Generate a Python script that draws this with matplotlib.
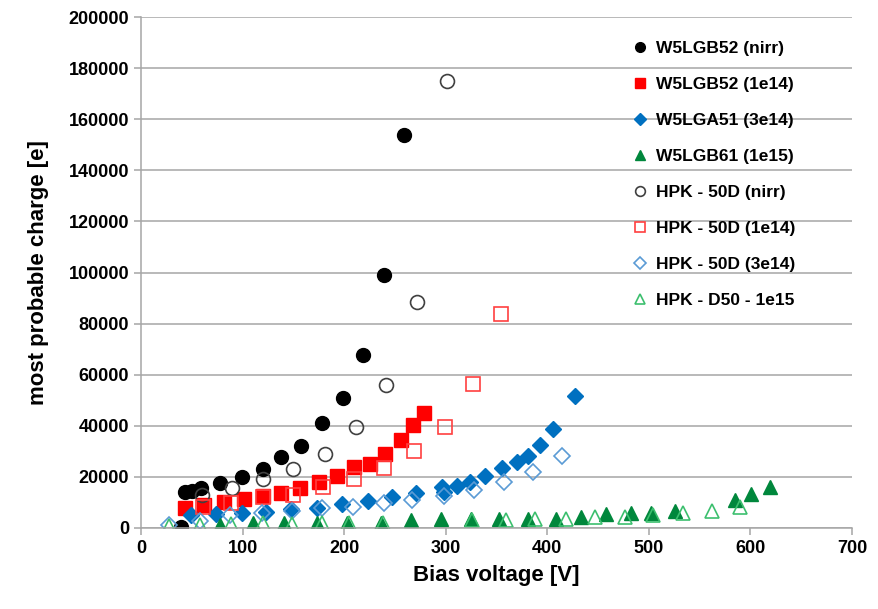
import matplotlib
matplotlib.use("Agg")
import matplotlib.pyplot as plt

plt.rcParams["font.family"] = ["Liberation Sans", "DejaVu Sans"]
plt.rcParams["font.weight"] = "bold"

# W5LGB52 (nirr)
w5_nirr_v = [39, 43, 50, 59, 78, 99, 120, 138, 158, 178, 199, 219, 239, 259]
w5_nirr_q = [200, 14100, 14500, 15700, 17600, 20000, 23100, 27800, 32100, 41100,
             50900, 67700, 99000, 154000]

# W5LGB52 (1e14)
w5_1e14_v = [43, 62, 82, 101, 120, 138, 157, 175, 193, 210, 225, 240, 256, 268, 279]
w5_1e14_q = [7800, 9000, 10200, 11400, 12500, 13700, 15600, 18000, 20400, 23900,
             25000, 29000, 34600, 40300, 45000]

# W5LGA51 (3e14)
w5_3e14_v = [49, 74, 99, 123, 148, 173, 198, 223, 247, 271, 296, 298, 311, 324,
             339, 355, 370, 381, 393, 406, 427]
w5_3e14_q = [5100, 5500, 5900, 6300, 7400, 7800, 9400, 10600, 12100, 13700, 16000,
             14200, 16400, 18000, 20300, 23500, 25800, 28200, 32500, 38800, 51600]

# W5LGB61 (1e15)
w5_1e15_v = [78, 110, 141, 173, 203, 236, 266, 295, 325, 352, 381, 409, 433, 458,
             482, 502, 526, 585, 601, 619]
w5_1e15_q = [1200, 1800, 1800, 1800, 1800, 2000, 3100, 3500, 3500, 3500, 3500, 3500,
             4300, 5500, 5900, 5900, 6600, 11000, 13300, 16000]

# HPK - 50D (nirr)
hpk_nirr_v = [60, 90, 120, 150, 181, 212, 241, 272, 301]
hpk_nirr_q = [12900, 15600, 19200, 23100, 29000, 39500, 56000, 88500, 175000]

# HPK - 50D (1e14)
hpk_1e14_v = [61, 89, 120, 150, 179, 210, 239, 269, 299, 327, 354]
hpk_1e14_q = [8200, 9800, 12100, 12900, 16000, 19200, 23500, 30200, 39600, 56400, 83700]

# HPK - 50D (3e14)
hpk_3e14_v = [28, 58, 88, 119, 149, 178, 209, 239, 267, 298, 328, 357, 386, 414]
hpk_3e14_q = [1200, 2700, 5200, 6000, 6800, 7800, 8300, 9600, 11000, 12500, 14800,
              18000, 22000, 28200]

# HPK - D50 - 1e15
hpk_1e15_v = [28, 58, 89, 120, 149, 178, 205, 238, 326, 359, 388, 418, 447, 477,
              504, 534, 562, 590]
hpk_1e15_q = [800, 1200, 1500, 1800, 1500, 1800, 1800, 1800, 3100, 3100, 3500, 3500,
              4300, 4300, 5100, 5900, 6600, 8200]

fig = plt.figure(figsize=(8.79, 6.09), dpi=100)
ax = fig.add_axes([141 / 879, 1 - 528 / 609, 711 / 879, 511 / 609])

# filled series
ax.plot(w5_nirr_v, w5_nirr_q, ls="none", marker="o", ms=10, mfc="black", mec="black",
        label="W5LGB52 (nirr)")
ax.plot(w5_1e14_v, w5_1e14_q, ls="none", marker="s", ms=9.5, mfc="#ff0000", mec="#ff0000",
        label="W5LGB52 (1e14)")
ax.plot(w5_3e14_v, w5_3e14_q, ls="none", marker="D", ms=8.5, mfc="#0070c0", mec="#0070c0",
        label="W5LGA51 (3e14)")
ax.plot(w5_1e15_v, w5_1e15_q, ls="none", marker="^", ms=10, mfc="#00873c", mec="#00873c",
        label="W5LGB61 (1e15)")

# hollow series
ax.plot(hpk_nirr_v, hpk_nirr_q, ls="none", marker="o", ms=10, mfc="none", mec="#404040",
        mew=1.2, label="HPK - 50D (nirr)")
ax.plot(hpk_1e14_v, hpk_1e14_q, ls="none", marker="s", ms=9.5, mfc="none", mec="#ff4040",
        mew=1.2, label="HPK - 50D (1e14)")
ax.plot(hpk_3e14_v, hpk_3e14_q, ls="none", marker="D", ms=8.5, mfc="none", mec="#5b9bd5",
        mew=1.2, label="HPK - 50D (3e14)")
ax.plot(hpk_1e15_v, hpk_1e15_q, ls="none", marker="^", ms=10, mfc="none", mec="#3cbf6e",
        mew=1.2, label="HPK - D50 - 1e15")

ax.set_xlim(0, 700)
ax.set_ylim(0, 200000)
ax.set_xticks(range(0, 701, 100))
ax.set_yticks(range(0, 200001, 20000))
ax.yaxis.grid(True, color="#a6a6a6", linewidth=1.1)
ax.set_axisbelow(True)

for s in ["top", "right"]:
    ax.spines[s].set_visible(False)
for s in ["left", "bottom"]:
    ax.spines[s].set_color("#a6a6a6")
    ax.spines[s].set_linewidth(1.1)
ax.tick_params(axis="both", colors="#a6a6a6", width=1.1, length=5, labelsize=13,
               labelcolor="black")
for lbl in ax.get_xticklabels() + ax.get_yticklabels():
    lbl.set_fontweight("bold")

ax.set_xlabel("Bias voltage [V]", fontsize=16, fontweight="bold", labelpad=6)
ax.set_ylabel("most probable charge [e]", fontsize=16, fontweight="bold", labelpad=14)

ax.legend(loc="upper left", bbox_to_anchor=(0.69, 0.953), frameon=False,
          prop={"size": 12.5, "weight": "bold"}, handlelength=1.0, handletextpad=0.4,
          labelspacing=1.2, borderpad=0, borderaxespad=0, markerscale=0.7)

fig.savefig("out.png", dpi=100)
